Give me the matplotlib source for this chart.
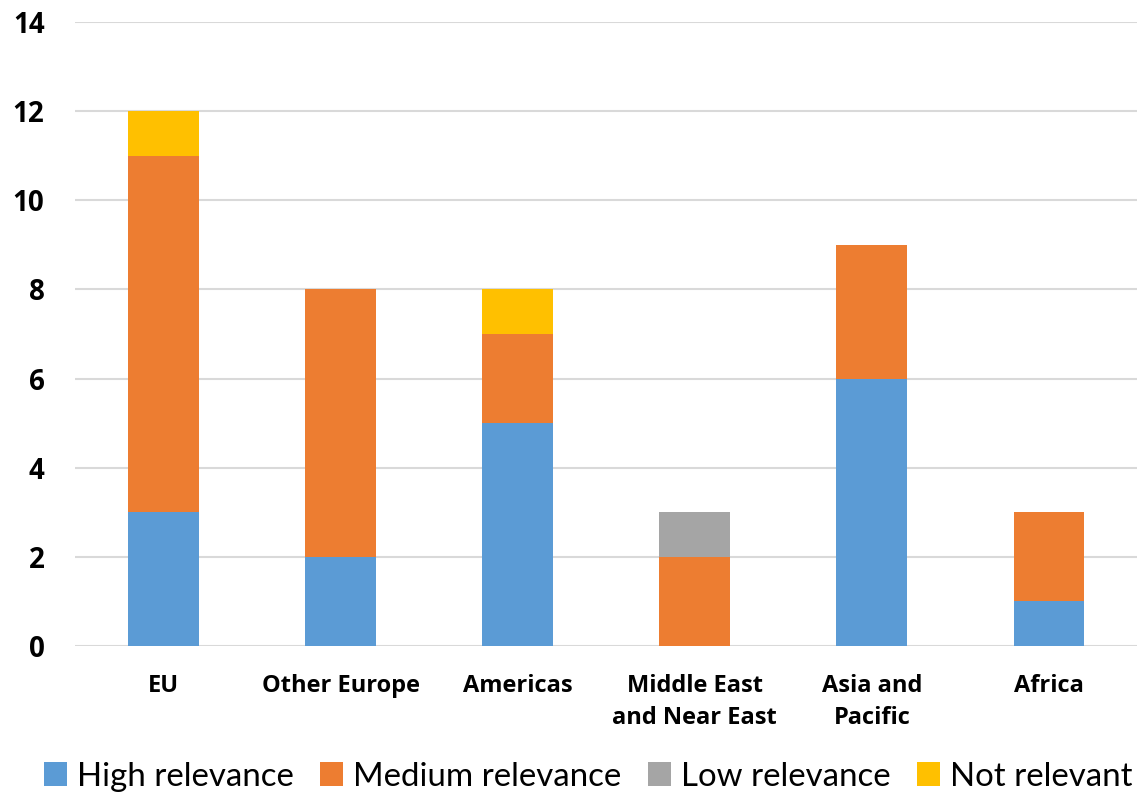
import matplotlib.pyplot as plt
import numpy as np

regions = ['EU', 'Other Europe', 'Americas', 'Middle East\nand Near East',
           'Asia and\nPacific', 'Africa']
high = [3, 2, 5, 0, 6, 1]
medium = [8, 6, 2, 2, 3, 2]
low = [0, 0, 0, 1, 0, 0]
not_relevant = [1, 0, 1, 0, 0, 0]

series = [
    ('High relevance', high, '#5B9BD5'),
    ('Medium relevance', medium, '#ED7D31'),
    ('Low relevance', low, '#A5A5A5'),
    ('Not relevant', not_relevant, '#FFC000'),
]

plt.rcParams['font.family'] = ['Lato', 'DejaVu Sans']

fig = plt.figure(figsize=(11.4, 7.94), dpi=100)
ax = fig.add_axes([0.0658, 0.1864, 0.932, 0.7859])

x = np.arange(len(regions))
bottom = np.zeros(len(regions))
for name, vals, color in series:
    vals = np.array(vals, dtype=float)
    ax.bar(x, vals, 0.4, bottom=bottom, color=color, label=name, zorder=2)
    bottom += vals

ax.set_xlim(-0.5, len(regions) - 0.5)
ax.set_ylim(0, 14)
ax.set_yticks(range(0, 15, 2))
ax.set_xticks(x)
ax.set_xticklabels(regions, fontsize=17, fontweight='bold', family='Open Sans',
                   linespacing=1.45)
ax.tick_params(axis='x', length=0, pad=20)
ax.tick_params(axis='y', length=0, pad=22)
for lbl in ax.get_yticklabels():
    lbl.set_fontweight('bold')
    lbl.set_family('Open Sans')
    lbl.set_fontsize(20)

ax.grid(axis='y', color='#D9D9D9', linewidth=1.5, zorder=0)
for s in ax.spines.values():
    s.set_visible(False)

fig.legend(loc='center', bbox_to_anchor=(0.516, 0.022), ncol=4, frameon=False,
           fontsize=23.8, handlelength=0.7, handleheight=0.7, handletextpad=0.3,
           columnspacing=0.8, borderaxespad=0)

fig.savefig('out.png', dpi=100)
